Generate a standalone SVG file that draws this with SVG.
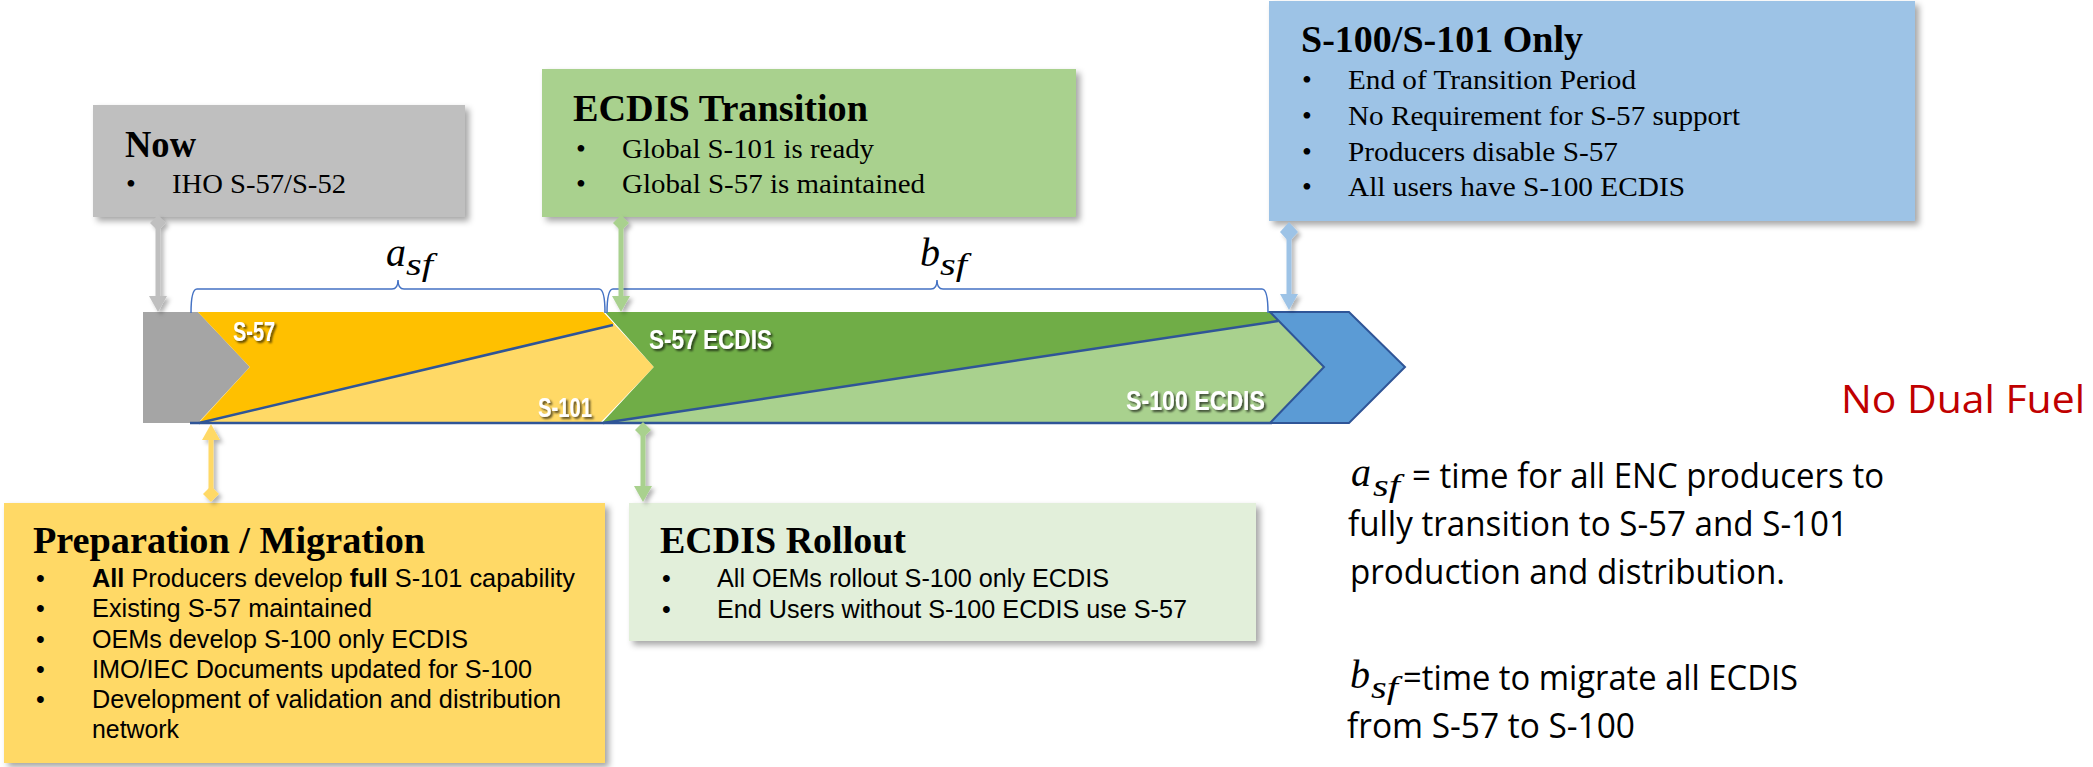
<svg xmlns="http://www.w3.org/2000/svg" width="2093" height="767" viewBox="0 0 2093 767">
  <style>
    .title { font-family: "Liberation Serif", "Times New Roman", serif; font-weight: bold; font-size: 38px; fill: #000; }
    .serif { font-family: "Liberation Serif", "Times New Roman", serif; font-size: 28px; fill: #000; }
    .sans { font-family: "Liberation Sans", Arial, sans-serif; font-size: 25px; fill: #000; }
    .bar-label { font-family: "Liberation Sans Narrow", "Liberation Sans", Arial, sans-serif; font-weight: bold; font-size: 28px; fill: #fff; }
    .math { font-family: "Liberation Serif", "DejaVu Serif", serif; font-style: italic; fill: #000; }
    .sub { font-family: "Liberation Serif", "DejaVu Serif", serif; font-style: italic; font-size: 31px; fill: #000; }
    .note { font-family: "Open Sans", "Noto Sans", sans-serif; font-size: 34px; fill: #000; }
    .brace { fill: none; stroke: #4472C4; stroke-width: 1.5; }
    .edge { fill: none; stroke: #2F5597; stroke-width: 2.5; }
    .conn { stroke-width: 5; fill: none; }
  </style>
  <defs>
    <filter id="boxShadow" x="-5%" y="-5%" width="115%" height="120%">
      <feDropShadow dx="4" dy="4" stdDeviation="3" flood-color="#000" flood-opacity="0.35"/>
    </filter>
    <filter id="lineShadow" x="-100%" y="-10%" width="300%" height="130%">
      <feDropShadow dx="3" dy="3" stdDeviation="2" flood-color="#000" flood-opacity="0.3"/>
    </filter>
    <filter id="textShadow" x="-10%" y="-30%" width="130%" height="170%">
      <feDropShadow dx="2" dy="2" stdDeviation="1.2" flood-color="#000" flood-opacity="0.65"/>
    </filter>
    <!-- arrowheads and diamond ends, one pair per connector colour -->
    <marker id="arrGray" markerUnits="userSpaceOnUse" markerWidth="18" markerHeight="20" viewBox="0 -10 18 20" refX="0" refY="0" orient="auto"><path d="M0,-9 L16,0 L0,9 z" fill="#BFBFBF"/></marker>
    <marker id="diaGray" markerUnits="userSpaceOnUse" markerWidth="22" markerHeight="20" viewBox="-11 -10 22 20" refX="0" refY="0" orient="auto"><path d="M-8,0 L0,-8 L8,0 L0,8 z" fill="#BFBFBF"/></marker>
    <marker id="arrGreen" markerUnits="userSpaceOnUse" markerWidth="18" markerHeight="20" viewBox="0 -10 18 20" refX="0" refY="0" orient="auto"><path d="M0,-9 L16,0 L0,9 z" fill="#A9D18E"/></marker>
    <marker id="diaGreen" markerUnits="userSpaceOnUse" markerWidth="22" markerHeight="20" viewBox="-11 -10 22 20" refX="0" refY="0" orient="auto"><path d="M-8,0 L0,-8 L8,0 L0,8 z" fill="#A9D18E"/></marker>
    <marker id="arrBlue" markerUnits="userSpaceOnUse" markerWidth="18" markerHeight="20" viewBox="0 -10 18 20" refX="0" refY="0" orient="auto"><path d="M0,-9 L16,0 L0,9 z" fill="#9DC3E6"/></marker>
    <marker id="diaBlue" markerUnits="userSpaceOnUse" markerWidth="22" markerHeight="20" viewBox="-11 -10 22 20" refX="0" refY="0" orient="auto"><path d="M-10,0 L0,-9 L10,0 L0,9 z" fill="#9DC3E6"/></marker>
    <marker id="arrYellow" markerUnits="userSpaceOnUse" markerWidth="18" markerHeight="20" viewBox="0 -10 18 20" refX="0" refY="0" orient="auto"><path d="M0,-9 L16,0 L0,9 z" fill="#FFD966"/></marker>
    <marker id="diaYellow" markerUnits="userSpaceOnUse" markerWidth="22" markerHeight="20" viewBox="-11 -10 22 20" refX="0" refY="0" orient="auto"><path d="M-8,0 L0,-8 L8,0 L0,8 z" fill="#FFD966"/></marker>
  </defs>

  <rect width="2093" height="767" fill="#fff"/>

  <!-- timeline bar -->
  <g id="timeline">
    <polygon points="143,312 198,312 250,367 198,423 143,423" fill="#A5A5A5"/>
    <!-- S-57 / S-101 chevron -->
    <polygon points="198,312 603,312 654,367 600,423 198,423 250,367" fill="#FFD966"/>
    <polygon points="198,312 603,312 614,324 199,423 250,367" fill="#FFC000"/>
    <!-- S-57 ECDIS / S-100 ECDIS chevron -->
    <polygon points="605,312 1270,312 1324,367 1270,423 602,423 654,367" fill="#A9D18E"/>
    <polygon points="605,312 1270,312 1279,321 602,423 654,367" fill="#70AD47"/>
    <!-- S-100 only chevron -->
    <polygon points="1270,312 1349,312 1405,367 1349,423 1270,423 1324,367" fill="#5B9BD5" stroke="#2F5597" stroke-width="2" stroke-linejoin="miter"/>
    <line class="edge" x1="199" y1="423" x2="613" y2="325"/>
    <line class="edge" x1="603" y1="423" x2="1278" y2="321"/>
    <line class="edge" x1="190" y1="423" x2="1272" y2="423" stroke-width="3"/>
    <g filter="url(#textShadow)">
      <text class="bar-label" x="233" y="341" textLength="42" lengthAdjust="spacingAndGlyphs">S-57</text>
      <text class="bar-label" x="538" y="417" textLength="54" lengthAdjust="spacingAndGlyphs">S-101</text>
      <text class="bar-label" x="649" y="349" textLength="123" lengthAdjust="spacingAndGlyphs">S-57 ECDIS</text>
      <text class="bar-label" x="1126" y="410" textLength="139" lengthAdjust="spacingAndGlyphs">S-100 ECDIS</text>
    </g>
  </g>

  <!-- period braces -->
  <g id="brace-a">
    <path class="brace" d="M191,313 Q191,289 197,289 L392,289 Q398,289 398,280 Q398,289 404,289 L599,289 Q605,289 605,313"/>
    <text class="math" x="386" y="266" font-size="40">a</text>
    <text class="sub" x="406" y="275" textLength="27" lengthAdjust="spacingAndGlyphs">sf</text>
  </g>
  <g id="brace-b">
    <path class="brace" d="M607,313 Q607,289 613,289 L931,289 Q937,289 937,280 Q937,289 943,289 L1262,289 Q1268,289 1268,313"/>
    <text class="math" x="920" y="266" font-size="40">b</text>
    <text class="sub" x="940" y="275" textLength="27" lengthAdjust="spacingAndGlyphs">sf</text>
  </g>

  <!-- milestone boxes -->
  <g id="now">
    <rect x="93" y="105" width="372" height="112" fill="#BFBFBF" filter="url(#boxShadow)"/>
    <text class="title" x="125" y="157" textLength="71" lengthAdjust="spacingAndGlyphs">Now</text>
    <text class="serif" x="126" y="193">•</text>
    <text class="serif" x="172" y="193" textLength="174" lengthAdjust="spacingAndGlyphs">IHO S-57/S-52</text>
  </g>

  <g id="ecdis-transition">
    <rect x="542" y="69" width="534" height="148" fill="#A9D18E" filter="url(#boxShadow)"/>
    <text class="title" x="573" y="121" textLength="295" lengthAdjust="spacingAndGlyphs">ECDIS Transition</text>
    <text class="serif" x="576" y="158">•</text>
    <text class="serif" x="622" y="158" textLength="252" lengthAdjust="spacingAndGlyphs">Global  S-101  is ready</text>
    <text class="serif" x="576" y="193">•</text>
    <text class="serif" x="622" y="193" textLength="303" lengthAdjust="spacingAndGlyphs">Global  S-57 is maintained</text>
  </g>

  <g id="s100-only">
    <rect x="1269" y="1" width="646" height="220" fill="#9DC3E6" filter="url(#boxShadow)"/>
    <text class="title" x="1301" y="52" textLength="282" lengthAdjust="spacingAndGlyphs">S-100/S-101 Only</text>
    <text class="serif" x="1302" y="89">•</text>
    <text class="serif" x="1348" y="89" textLength="288" lengthAdjust="spacingAndGlyphs">End of Transition  Period</text>
    <text class="serif" x="1302" y="125">•</text>
    <text class="serif" x="1348" y="125" textLength="392" lengthAdjust="spacingAndGlyphs">No Requirement  for S-57 support</text>
    <text class="serif" x="1302" y="161">•</text>
    <text class="serif" x="1348" y="161" textLength="270" lengthAdjust="spacingAndGlyphs">Producers  disable S-57</text>
    <text class="serif" x="1302" y="196">•</text>
    <text class="serif" x="1348" y="196" textLength="337" lengthAdjust="spacingAndGlyphs">All users have S-100 ECDIS</text>
  </g>

  <g id="preparation">
    <rect x="4" y="503" width="601" height="260" fill="#FFD966" filter="url(#boxShadow)"/>
    <text class="title" x="33" y="553" textLength="392" lengthAdjust="spacingAndGlyphs">Preparation / Migration</text>
    <text class="sans" x="36" y="587">•</text>
    <text class="sans" x="92" y="587" textLength="483" lengthAdjust="spacingAndGlyphs"><tspan font-weight="bold">All</tspan> Producers develop <tspan font-weight="bold">full</tspan> S-101 capability</text>
    <text class="sans" x="36" y="617">•</text>
    <text class="sans" x="92" y="617" textLength="280" lengthAdjust="spacingAndGlyphs">Existing S-57 maintained</text>
    <text class="sans" x="36" y="648">•</text>
    <text class="sans" x="92" y="648" textLength="376" lengthAdjust="spacingAndGlyphs">OEMs develop S-100 only ECDIS</text>
    <text class="sans" x="36" y="678">•</text>
    <text class="sans" x="92" y="678" textLength="440" lengthAdjust="spacingAndGlyphs">IMO/IEC Documents updated for S-100</text>
    <text class="sans" x="36" y="708">•</text>
    <text class="sans" x="92" y="708" textLength="469" lengthAdjust="spacingAndGlyphs">Development of validation and distribution</text>
    <text class="sans" x="92" y="738" textLength="87" lengthAdjust="spacingAndGlyphs">network</text>
  </g>

  <g id="ecdis-rollout">
    <rect x="629" y="503" width="627" height="138" fill="#E2EFDA" filter="url(#boxShadow)"/>
    <text class="title" x="660" y="553" textLength="246" lengthAdjust="spacingAndGlyphs">ECDIS Rollout</text>
    <text class="sans" x="662" y="587">•</text>
    <text class="sans" x="717" y="587" textLength="392" lengthAdjust="spacingAndGlyphs">All OEMs rollout S-100 only ECDIS</text>
    <text class="sans" x="662" y="618">•</text>
    <text class="sans" x="717" y="618" textLength="470" lengthAdjust="spacingAndGlyphs">End Users without S-100 ECDIS use S-57</text>
  </g>

  <!-- connectors between boxes and the timeline -->
  <g id="connectors" filter="url(#lineShadow)">
    <line class="conn" stroke="#BFBFBF" x1="158" y1="223" x2="158" y2="296" marker-start="url(#diaGray)" marker-end="url(#arrGray)"/>
    <line class="conn" stroke="#A9D18E" x1="621" y1="223" x2="621" y2="296" marker-start="url(#diaGreen)" marker-end="url(#arrGreen)"/>
    <line class="conn" stroke="#9DC3E6" x1="1289" y1="232" x2="1289" y2="294" marker-start="url(#diaBlue)" marker-end="url(#arrBlue)"/>
    <line class="conn" stroke="#FFD966" x1="211" y1="494" x2="211" y2="440" marker-start="url(#diaYellow)" marker-end="url(#arrYellow)"/>
    <line class="conn" stroke="#A9D18E" x1="643" y1="430" x2="643" y2="486" marker-start="url(#diaGreen)" marker-end="url(#arrGreen)"/>
  </g>

  <!-- legend -->
  <g id="no-dual-fuel">
    <text x="1841" y="413" font-family="'Open Sans', 'Noto Sans', sans-serif" font-size="39" fill="#C00000" textLength="244" lengthAdjust="spacingAndGlyphs">No Dual Fuel</text>
  </g>
  <g id="definitions">
    <text class="math" x="1351" y="486" font-size="40">a</text>
    <text class="sub" x="1373" y="496" textLength="27" lengthAdjust="spacingAndGlyphs">sf</text>
    <text class="note" x="1412" y="488" textLength="472" lengthAdjust="spacingAndGlyphs">= time for all ENC producers to</text>
    <text class="note" x="1348" y="536" textLength="500" lengthAdjust="spacingAndGlyphs">fully transition to S-57 and S-101</text>
    <text class="note" x="1350" y="584" textLength="435" lengthAdjust="spacingAndGlyphs">production and distribution.</text>
    <text class="math" x="1350" y="688" font-size="40">b</text>
    <text class="sub" x="1371" y="698" textLength="27" lengthAdjust="spacingAndGlyphs">sf</text>
    <text class="note" x="1403" y="690" textLength="395" lengthAdjust="spacingAndGlyphs">=time to migrate all ECDIS</text>
    <text class="note" x="1347" y="738" textLength="288" lengthAdjust="spacingAndGlyphs">from S-57 to S-100</text>
  </g>
</svg>
